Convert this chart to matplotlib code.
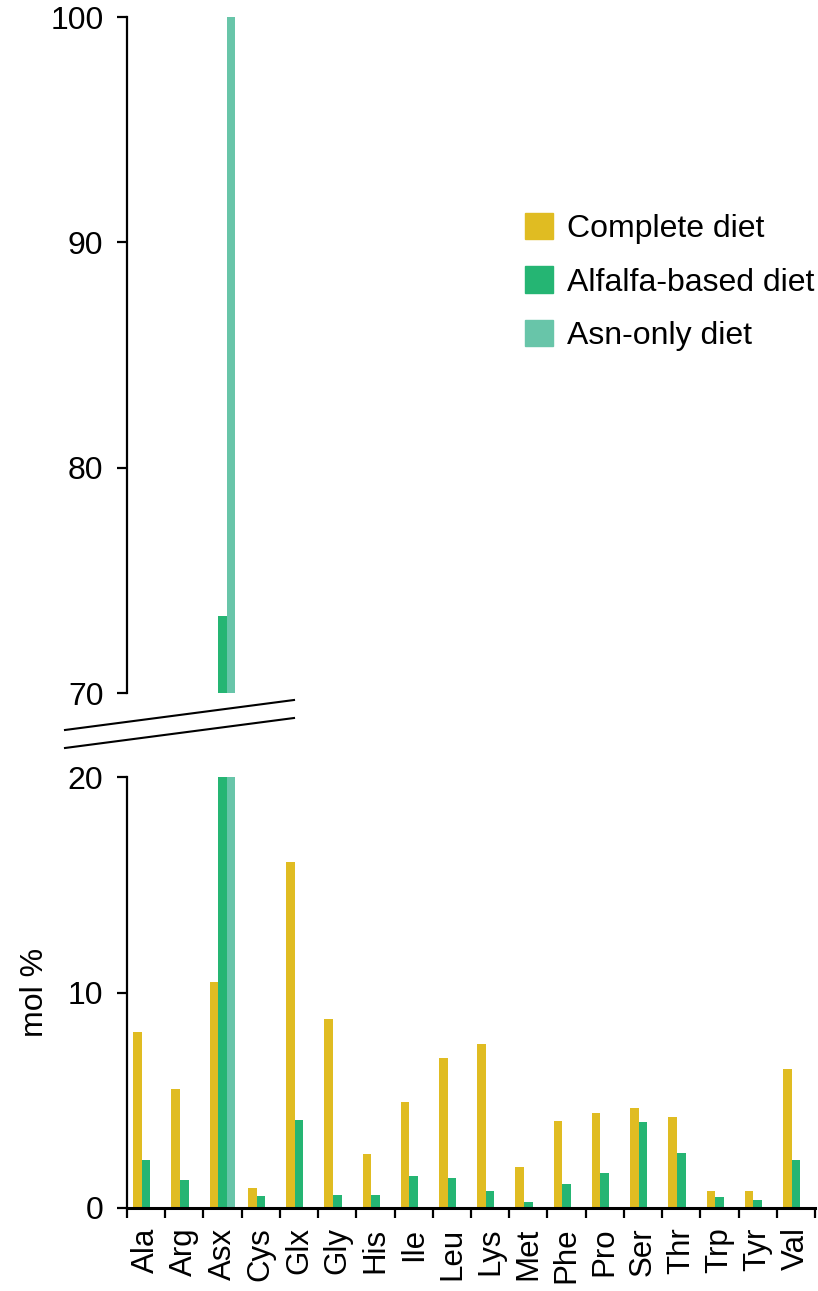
import matplotlib
matplotlib.use("Agg")
import matplotlib.pyplot as plt
import numpy as np
from matplotlib.lines import Line2D
from matplotlib.patches import Patch

plt.rcParams['font.family'] = ['Liberation Sans', 'DejaVu Sans']

amino_acids = ["Ala", "Arg", "Asx", "Cys", "Glx", "Gly", "His", "Ile", "Leu",
               "Lys", "Met", "Phe", "Pro", "Ser", "Thr", "Trp", "Tyr", "Val"]
complete = [8.17, 5.52, 10.47, 0.92, 16.08, 8.76, 2.50, 4.92, 6.97,
            7.6, 1.89, 4.05, 4.42, 4.65, 4.2, 0.79, 0.81, 6.43]
alfalfa = [2.22, 1.29, 73.4, 0.54, 4.09, 0.59, 0.59, 1.47, 1.41,
           0.81, 0.28, 1.12, 1.63, 3.97, 2.57, 0.49, 0.39, 2.23]
asn_only = [0, 0, 100, 0, 0, 0, 0, 0, 0, 0, 0, 0, 0, 0, 0, 0, 0, 0]

series = [("Complete diet", complete, "#E0BC22"),
          ("Alfalfa-based diet", alfalfa, "#25B573"),
          ("Asn-only diet", asn_only, "#68C5A9")]

fig = plt.figure(figsize=(8.18, 12.91), dpi=100)
ax_top = fig.add_axes([0.1553, 0.4632, 0.841, 0.5236])
ax_bot = fig.add_axes([0.1553, 0.0643, 0.841, 0.3338])

x = np.arange(len(amino_acids))
w = 0.225
for ax in (ax_top, ax_bot):
    for i, (name, vals, col) in enumerate(series):
        ax.bar(x + (i - 1) * w, vals, w, color=col, label=name)
    ax.set_xlim(-0.5, len(amino_acids) - 0.5)
    for s in ("top", "right"):
        ax.spines[s].set_visible(False)
    ax.spines["left"].set_linewidth(1.6)
    ax.tick_params(axis="y", labelsize=23, width=1.6, length=7, pad=10)

ax_top.set_ylim(70, 100)
ax_top.set_yticks([70, 80, 90, 100])
ax_top.spines["bottom"].set_visible(False)
ax_top.set_xticks([])

ax_bot.set_ylim(0, 20)
ax_bot.set_yticks([0, 10, 20])
ax_bot.spines["bottom"].set_linewidth(2.2)
ax_bot.set_xticks(x)
ax_bot.set_xticklabels(amino_acids, rotation=90, fontsize=22.5)
ax_bot.set_xticks(np.arange(-0.5, len(amino_acids)), minor=True)
ax_bot.tick_params(axis="x", which="major", length=0, pad=14)
ax_bot.tick_params(axis="x", which="minor", length=7, width=1.6)
ax_bot.set_ylabel("mol %", fontsize=23, labelpad=13)

# break marks
for dy in (0, 18):
    fig.add_artist(Line2D([65 / 818, 294 / 818],
                          [1 - (730 + dy) / 1291, 1 - (700 + dy) / 1291],
                          transform=fig.transFigure, color="black", lw=1.5))

handles = [Patch(color=c, label=n) for n, _, c in series]
fig.legend(handles=handles, loc="upper left", bbox_to_anchor=(525 / 818, 1 - 213 / 1291),
           frameon=False, fontsize=23, handlelength=0.88, handleheight=0.88,
           handletextpad=0.45, labelspacing=0.7, borderpad=0, borderaxespad=0)

fig.savefig("out.png", dpi=100)
